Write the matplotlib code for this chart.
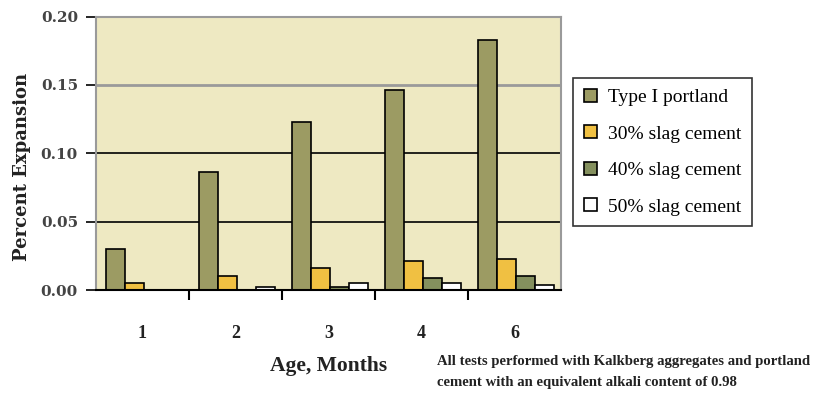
import matplotlib
matplotlib.use("Agg")
import matplotlib.pyplot as plt
import numpy as np

categories = ["1", "2", "3", "4", "6"]
series_names = ["Type I portland", "30% slag cement", "40% slag cement", "50% slag cement"]
type1 = [0.030, 0.086, 0.123, 0.146, 0.183]
slag30 = [0.005, 0.010, 0.016, 0.021, 0.023]
slag40 = [0.0, 0.0, 0.002, 0.009, 0.010]
slag50 = [0.0, 0.002, 0.005, 0.005, 0.004]
yticks = [0.00, 0.05, 0.10, 0.15, 0.20]

colors = ["#9C9B63", "#F0C042", "#84905E", "#FFFFFF"]
serif = ["Liberation Serif", "DejaVu Serif"]
wide_serif = ["DejaVu Serif"]

fig = plt.figure(figsize=(8.15, 3.95), dpi=100)
ax = fig.add_axes([96/815, 1-290/395, (561-96)/815, (290-16.5)/395])
ax.set_facecolor("#EEE9C2")

x = np.arange(len(categories))
w = 0.205
series = [type1, slag30, slag40, slag50]
for i, (vals, c, name) in enumerate(zip(series, colors, series_names)):
    ax.bar(x + (i - 1.5) * w + 0.02, vals, width=w, color=c, edgecolor="black",
           linewidth=1.2, label=name, zorder=3)

ax.set_xlim(-0.5, len(categories) - 0.5)
ax.set_ylim(0, 0.20)

# gridlines
for yv, col, lw in [(0.05, "black", 1.2), (0.10, "black", 1.2), (0.15, "#9A9A9A", 2.0)]:
    ax.axhline(yv, color=col, lw=lw, zorder=1)

for s in ["top", "right", "left"]:
    ax.spines[s].set_color("#9A9A9A")
    ax.spines[s].set_linewidth(1.5)
ax.spines["bottom"].set_color("black")
ax.spines["bottom"].set_linewidth(1.5)
ax.spines["bottom"].set_zorder(4)

ax.set_yticks(yticks)
ax.set_yticklabels([f"{v:.2f}" for v in yticks], fontfamily=wide_serif, fontsize=11,
                   fontweight="bold", color="#444444")
ax.tick_params(axis="y", direction="out", length=7, width=1.2, color="black", pad=6)

ax.set_xticks(x)
ax.set_xticklabels(categories, fontfamily=serif, fontsize=13, fontweight="bold",
                   color="#222222")
ax.tick_params(axis="x", which="major", length=0, pad=25)
ax.set_xticks(np.arange(0.5, len(categories) - 0.5, 1.0), minor=True)
ax.tick_params(axis="x", which="minor", direction="out", length=7, width=1.5, color="black")

fig.text(22/815, 1-167/395, "Percent Expansion", rotation=90, ha="center", va="center",
         fontfamily=wide_serif, fontsize=13, fontweight="bold", color="#222222")
fig.text(329/815, 1-366/395, "Age, Months", ha="center", va="center",
         fontfamily=serif, fontsize=15.5, fontweight="bold", color="#222222")
fig.text(437/815, 1-372/395,
         "All tests performed with Kalkberg aggregates and portland\ncement with an equivalent alkali content of 0.98",
         ha="left", va="center", fontfamily=serif, fontsize=10.6, fontweight="bold",
         color="#222222", linespacing=1.75)

leg = fig.legend(loc="upper left", bbox_to_anchor=(573/815, 1-78/395),
                 prop={"family": serif, "size": 14}, frameon=True, fancybox=False,
                 edgecolor="black", handlelength=0.67, handleheight=0.67,
                 handletextpad=0.57, labelspacing=0.98, borderpad=0.55, borderaxespad=0)
leg.get_frame().set_linewidth(1.2)

fig.savefig("out.png", dpi=100)
